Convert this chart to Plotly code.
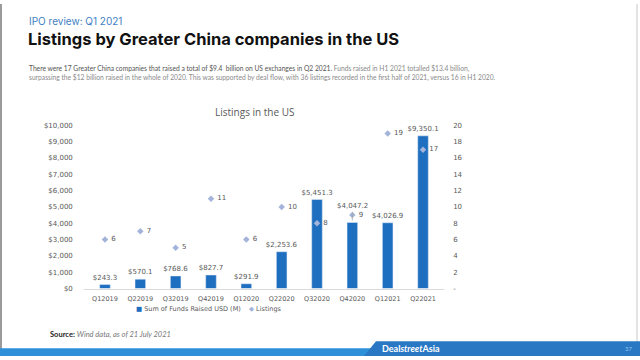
import plotly.graph_objects as go

quarters = ["Q12019", "Q22019", "Q32019", "Q42019", "Q12020", "Q22020",
            "Q32020", "Q42020", "Q12021", "Q22021"]
funds_raised = [243.3, 570.1, 768.6, 827.7, 291.9, 2253.6, 5451.3, 4047.2, 4026.9, 9350.1]
listings = [6, 7, 5, 11, 6, 10, 8, 9, 19, 17]
left_ticks = [0, 1000, 2000, 3000, 4000, 5000, 6000, 7000, 8000, 9000, 10000]
right_ticks = [0, 2, 4, 6, 8, 10, 12, 14, 16, 18, 20]
right_labels = ["-"] + [str(v) for v in right_ticks[1:]]
series_names = ["Sum of Funds Raised USD (M)", "Listings"]
lifted_label = "Q42020"  # data label moved above the Listings marker in the original

GRAY = "#595959"
BAR_COLOR = "#1f6fc0"
MARKER_COLOR = "#a3b3d9"
TICKFONT = dict(family="DejaVu Sans", size=7, color=GRAY)

bar_text = ["" if q == lifted_label else f"${v:,.1f}" for q, v in zip(quarters, funds_raised)]

fig = go.Figure()
fig.add_trace(go.Bar(
    x=quarters, y=funds_raised, name=series_names[0],
    marker_color=BAR_COLOR, width=0.3,
    text=bar_text, textposition="outside", constraintext="none",
    textfont=TICKFONT, cliponaxis=False,
))
fig.add_trace(go.Scatter(
    x=quarters, y=listings, name=series_names[1], yaxis="y2",
    mode="markers+text", text=[f" {v}" for v in listings],
    textposition="middle right", textfont=TICKFONT,
    marker=dict(symbol="diamond", size=5, color=MARKER_COLOR),
    cliponaxis=False,
))

# lifted data label with leader line
i = quarters.index(lifted_label)
fig.add_annotation(x=quarters[i], y=funds_raised[i], text=f"${funds_raised[i]:,.1f}",
                   showarrow=True, arrowhead=0, arrowwidth=0.8, arrowcolor="#a6a6a6",
                   ax=0, ay=-14, yshift=2, standoff=0, font=TICKFONT,
                   xref="x", yref="y")

fig.update_layout(
    width=640, height=360, autosize=False,
    margin=dict(l=0, r=0, t=0, b=0),
    paper_bgcolor="white", plot_bgcolor="white",
    showlegend=False,
    xaxis=dict(domain=[0.131, 0.694], showgrid=False, showline=True,
               linecolor="#d9d9d9", linewidth=1,
               tickfont=dict(family="DejaVu Sans", size=6.5, color=GRAY), ticks="",
               tickangle=0, dtick=1, ticklabelstandoff=4),
    yaxis=dict(domain=[0.1917, 0.6556], range=[0, 10000], tickvals=left_ticks,
               tickformat="$,.0f", showgrid=False, zeroline=False,
               tickfont=TICKFONT, ticklabelstandoff=10),
    yaxis2=dict(overlaying="y", side="right", range=[0, 20], tickvals=right_ticks,
                ticktext=right_labels, showgrid=False, zeroline=False,
                tickfont=TICKFONT, ticklabelstandoff=8),
    bargap=0.7,
)

# Legend (drawn as text row, as in the original chart)
fig.add_annotation(
    text=(f"<span style='color:{BAR_COLOR}'>■</span> {series_names[0]}"
          f"&nbsp;&nbsp;&nbsp;&nbsp;<span style='color:{MARKER_COLOR}'>◆</span> {series_names[1]}"),
    xref="paper", yref="paper", x=209 / 640, y=1 - 312 / 360, xanchor="center", yanchor="middle",
    showarrow=False, font=dict(family="DejaVu Sans", size=6.5, color=GRAY))

# Chart title
fig.add_annotation(text="Listings in the US", xref="paper", yref="paper",
                   x=0.397, y=1 - 110 / 360, yanchor="middle", showarrow=False,
                   font=dict(family="Open Sans", size=10, color=GRAY))

# Page header
fig.add_annotation(text="IPO review: Q1 2021", xref="paper", yref="paper",
                   x=27 / 640, y=1 - 17 / 360, xanchor="left", yanchor="middle",
                   showarrow=False, font=dict(family="Inter", size=10, color="#3f7fc4"))
fig.add_annotation(text="<b>Listings by Greater China companies in the US</b>",
                   xref="paper", yref="paper", x=26 / 640, y=1 - 36 / 360,
                   xanchor="left", yanchor="middle", showarrow=False,
                   font=dict(family="Inter", size=16.5, color="#111111"))
fig.add_annotation(
    text=("<span style='color:#555'>There were 17 Greater China companies that raised a total of $9.4  billion on US exchanges in Q2 2021.</span>"
          " Funds raised in H1 2021 totalled $13.4 billion,<br>"
          "surpassing the $12 billion raised in the whole of 2020. This was supported by deal flow, with 36 listings recorded in the first half of 2021, versus 16 in H1 2020."),
    xref="paper", yref="paper", x=27 / 640, y=1 - 71 / 360, xanchor="left", yanchor="middle",
    align="left", showarrow=False,
    font=dict(family="Lato", size=6.7, color="#8a8a8a"))

# Source
fig.add_annotation(
    text="<b>Source:</b> <i><span style='color:#777'>Wind data, as of 21 July 2021</span></i>",
    xref="paper", yref="paper", x=48 / 640, y=1 - 338 / 360, xanchor="left", yanchor="middle",
    showarrow=False, font=dict(family="Lato", size=7.5, color="#222"))

# Frame and footer band
fig.add_shape(type="line", xref="paper", yref="paper", x0=1 / 640, x1=1 / 640, y0=0, y1=1,
              line=dict(color="#9a9a9a", width=2))
fig.add_shape(type="line", xref="paper", yref="paper", x0=637 / 640, x1=637 / 640, y0=0, y1=1,
              line=dict(color="#c8c8c8", width=1))
fig.add_shape(type="rect", xref="paper", yref="paper", x0=0, x1=1, y0=0, y1=8 / 360,
              fillcolor="#2f90da", line_width=0)
fig.add_shape(type="path", xref="paper", yref="paper",
              path=f"M {364/640},0 L {376/640},{15/360} L 1,{15/360} L 1,0 Z",
              fillcolor="#2a78c4", line_width=0)
fig.add_annotation(text="<b>Deal<i>street</i>Asia</b>", xref="paper", yref="paper",
                   x=381 / 640, y=7.5 / 360, xanchor="left", yanchor="middle", showarrow=False,
                   borderpad=0, font=dict(family="Lato", size=9, color="white"))
fig.add_annotation(text="37", xref="paper", yref="paper",
                   x=628 / 640, y=7.5 / 360, xanchor="center", yanchor="middle", showarrow=False,
                   borderpad=0, font=dict(family="Lato", size=6, color="#8fc0ea"))

fig.write_html("out.html", config={"displayModeBar": False},
               post_script="document.body.style.margin='0px';document.body.style.overflow='hidden';")
